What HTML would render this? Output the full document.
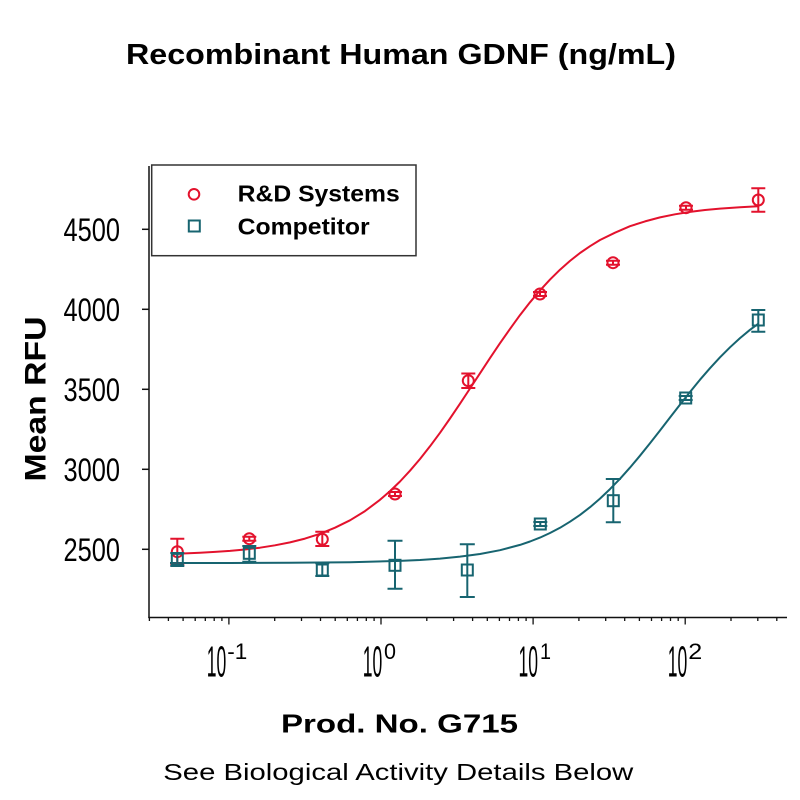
<!DOCTYPE html>
<html>
<head>
<meta charset="utf-8">
<style>
  html,body{margin:0;padding:0;background:#fff;}
  svg{display:block;}
  .b{font-family:"Liberation Sans",Arial,sans-serif;font-weight:bold;fill:#000;}
  .r{font-family:"Liberation Sans",Arial,sans-serif;fill:#000;}
  .n{font-family:"Liberation Sans Narrow","Liberation Sans",Arial,sans-serif;fill:#000;}
</style>
</head>
<body>
<svg width="800" height="800" viewBox="0 0 800 800" xmlns="http://www.w3.org/2000/svg">
  <rect width="800" height="800" fill="#fff"/>

  <!-- Title -->
  <text class="b" x="126" y="64" font-size="29" textLength="550" lengthAdjust="spacingAndGlyphs">Recombinant Human GDNF (ng/mL)</text>

  <!-- Axes -->
  <g stroke="#111" stroke-width="1.5" fill="none">
    <line x1="149" y1="166" x2="149" y2="618"/>
    <line x1="148.3" y1="617.5" x2="787" y2="617.5"/>
    <line x1="142" y1="229.3" x2="149" y2="229.3"/>
    <line x1="142" y1="309.3" x2="149" y2="309.3"/>
    <line x1="142" y1="389.3" x2="149" y2="389.3"/>
    <line x1="142" y1="469.3" x2="149" y2="469.3"/>
    <line x1="142" y1="549.3" x2="149" y2="549.3"/>
  </g>
  <g stroke="#111" stroke-width="1.3">
    <line x1="228.9" y1="617.5" x2="228.9" y2="624.5"/>
    <line x1="381" y1="617.5" x2="381" y2="624.5"/>
    <line x1="533.1" y1="617.5" x2="533.1" y2="624.5"/>
    <line x1="685.2" y1="617.5" x2="685.2" y2="624.5"/>
    <path d="M149.4 617.5v3.5M168.4 617.5v3.5M183.1 617.5v3.5M195.2 617.5v3.5M205.3 617.5v3.5M214.2 617.5v3.5M221.9 617.5v3.5
             M274.7 617.5v3.5M301.5 617.5v3.5M320.5 617.5v3.5M335.2 617.5v3.5M347.3 617.5v3.5M357.4 617.5v3.5M366.3 617.5v3.5M374.1 617.5v3.5
             M426.8 617.5v3.5M453.6 617.5v3.5M472.6 617.5v3.5M487.3 617.5v3.5M499.4 617.5v3.5M509.5 617.5v3.5M518.4 617.5v3.5M526.1 617.5v3.5
             M578.9 617.5v3.5M605.7 617.5v3.5M624.7 617.5v3.5M639.4 617.5v3.5M651.5 617.5v3.5M661.6 617.5v3.5M670.5 617.5v3.5M678.2 617.5v3.5
             M731.0 617.5v3.5M757.8 617.5v3.5M776.8 617.5v3.5"/>
  </g>

  <!-- y tick labels -->
  <g class="n" font-size="32">
    <text x="63.5" y="241" textLength="56.5" lengthAdjust="spacingAndGlyphs">4500</text>
    <text x="63.5" y="321" textLength="56.5" lengthAdjust="spacingAndGlyphs">4000</text>
    <text x="63.5" y="401" textLength="56.5" lengthAdjust="spacingAndGlyphs">3500</text>
    <text x="63.5" y="481" textLength="56.5" lengthAdjust="spacingAndGlyphs">3000</text>
    <text x="63.5" y="561" textLength="56.5" lengthAdjust="spacingAndGlyphs">2500</text>
  </g>

  <!-- x tick labels -->
  <g class="n">
    <text x="206.7" y="676.5" font-size="44" textLength="19.5" lengthAdjust="spacingAndGlyphs">10</text>
    <text x="227.3" y="659" font-size="22" textLength="20" lengthAdjust="spacingAndGlyphs">-1</text>

    <text x="362.7" y="676.5" font-size="44" textLength="19.5" lengthAdjust="spacingAndGlyphs">10</text>
    <text x="384" y="659" font-size="22" textLength="12" lengthAdjust="spacingAndGlyphs">0</text>

    <text x="518.5" y="676.5" font-size="44" textLength="19.5" lengthAdjust="spacingAndGlyphs">10</text>
    <text x="540" y="659" font-size="22" textLength="11" lengthAdjust="spacingAndGlyphs">1</text>

    <text x="667.7" y="676.5" font-size="44" textLength="19.5" lengthAdjust="spacingAndGlyphs">10</text>
    <text x="688.3" y="659" font-size="22" textLength="14" lengthAdjust="spacingAndGlyphs">2</text>
  </g>

  <!-- Axis titles -->
  <text class="b" transform="translate(45.7,481.5) rotate(-90)" x="0" y="0" font-size="30" textLength="165" lengthAdjust="spacingAndGlyphs">Mean RFU</text>
  <text class="b" x="281" y="732.5" font-size="26" textLength="237" lengthAdjust="spacingAndGlyphs">Prod. No. G715</text>
  <text class="r" x="163.3" y="780" font-size="23" textLength="470" lengthAdjust="spacingAndGlyphs">See Biological Activity Details Below</text>

  <!-- Legend -->
  <rect x="151.7" y="165" width="264.3" height="90.7" fill="#fff" stroke="#333" stroke-width="1.5"/>
  <circle cx="194" cy="194.3" r="5.3" fill="none" stroke="#e3122d" stroke-width="2"/>
  <rect x="188.8" y="220.5" width="11" height="11" fill="none" stroke="#176470" stroke-width="2"/>
  <text class="b" x="237.7" y="201.7" font-size="23" textLength="162" lengthAdjust="spacingAndGlyphs">R&amp;D Systems</text>
  <text class="b" x="237.7" y="234.3" font-size="23" textLength="132" lengthAdjust="spacingAndGlyphs">Competitor</text>

  <!-- Red curve -->
  <polyline fill="none" stroke="#e3122d" stroke-width="2" stroke-linejoin="round"
    points="171,554 200,552.8 215,551.9 230,550.9 245,549.5 260,547.7 275,545.3 290,542.4 305,538.6 320,533.8 335,527.7 350,520.3 365,511.1 380,499.8 390,491.1 400,481.5 410,470.7 420,459 430,446.3 440,432.8 450,418.5 460,403.7 470,388.5 480,373.3 490,358.1 500,343.2 510,328.9 520,315.1 530,302.3 540,290.4 550,279.6 560,269.7 570,260.9 580,253 590,246.2 600,240 615,232.7 630,226.2 645,221.4 660,217.4 675,214.3 690,211.9 705,210 720,208.6 740,207.3 758,206.3"/>

  <!-- Teal curve -->
  <polyline fill="none" stroke="#176470" stroke-width="2" stroke-linejoin="round"
    points="170,563 230,563 290,562.8 350,562.2 400,560.9 420,560 440,558.6 460,556.6 480,554 500,550.2 520,544.9 530,541.5 540,537.6 550,533 560,527.8 570,521.7 580,514.9 590,507.2 600,498.6 610,489.1 620,478.8 630,467.6 640,455.7 650,443.3 660,430.5 670,417.5 680,404.6 690,392 700,379.7 710,368.2 720,357.3 730,347.3 740,338.1 750,329.8 758,323.9"/>

  <!-- Red error bars -->
  <g stroke="#e3122d" stroke-width="2" fill="none">
    <path d="M177.3 538.7V564.7M170.3 538.7h14M170.3 564.7h14"/>
    <path d="M249.3 536.7V540.7M242.3 536.7h14M242.3 540.7h14"/>
    <path d="M322.3 531.7V546M315.3 531.7h14M315.3 546h14"/>
    <path d="M395 492V496M388 492h14M388 496h14"/>
    <path d="M468.3 373.5V388M461.3 373.5h14M461.3 388h14"/>
    <path d="M540 292V296M533 292h14M533 296h14"/>
    <path d="M613 260.7V264.7M606 260.7h14M606 264.7h14"/>
    <path d="M686 205.7V209.7M679 205.7h14M679 209.7h14"/>
    <path d="M758.3 188.3V211.7M751.3 188.3h14M751.3 211.7h14"/>
  </g>
  <g stroke="#e3122d" stroke-width="2" fill="none">
    <circle cx="177.3" cy="551.7" r="5.5"/>
    <circle cx="249.3" cy="538.7" r="5.5"/>
    <circle cx="322.3" cy="539.3" r="5.5"/>
    <circle cx="395" cy="494" r="5.5"/>
    <circle cx="468.3" cy="380.7" r="5.5"/>
    <circle cx="540" cy="294" r="5.5"/>
    <circle cx="613" cy="262.7" r="5.5"/>
    <circle cx="686" cy="207.7" r="5.5"/>
    <circle cx="758.3" cy="200" r="5.5"/>
  </g>

  <!-- Teal error bars -->
  <g stroke="#176470" stroke-width="2" fill="none">
    <path d="M177.3 553V566M170.3 553h14M170.3 566h14"/>
    <path d="M249.3 546V561.7M242.3 546h14M242.3 561.7h14"/>
    <path d="M322.3 563.3V576M315.3 563.3h14M315.3 576h14"/>
    <path d="M395 540.7V588.7M387.5 540.7h15M387.5 588.7h15"/>
    <path d="M467.3 544.3V597M459.8 544.3h15M459.8 597h15"/>
    <path d="M540.3 522V526M533.3 522h14M533.3 526h14"/>
    <path d="M613.3 479V522.3M605.8 479h15M605.8 522.3h15"/>
    <path d="M685.7 396V400M678.7 396h14M678.7 400h14"/>
    <path d="M758.3 310V331.7M751.3 310h14M751.3 331.7h14"/>
  </g>
  <g stroke="#176470" stroke-width="2" fill="none">
    <rect x="171.8" y="553.8" width="11" height="11"/>
    <rect x="243.8" y="547.8" width="11" height="11"/>
    <rect x="316.8" y="564.5" width="11" height="11"/>
    <rect x="389.5" y="559.8" width="11" height="11"/>
    <rect x="461.8" y="564.5" width="11" height="11"/>
    <rect x="534.8" y="518.5" width="11" height="11"/>
    <rect x="607.8" y="495.2" width="11" height="11"/>
    <rect x="680.2" y="392.5" width="11" height="11"/>
    <rect x="752.8" y="314.5" width="11" height="11"/>
  </g>
</svg>
</body>
</html>
